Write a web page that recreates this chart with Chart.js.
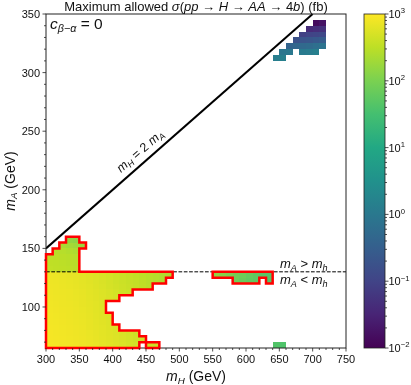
<!DOCTYPE html>
<html>
<head>
<meta charset="utf-8">
<script src="https://cdn.jsdelivr.net/npm/chart.js@4.4.1/dist/chart.umd.min.js"></script>
<style>
  html, body { margin: 0; padding: 0; background: #fff; }
</style>
</head>
<body>
<canvas id="myChart" width="411" height="385"></canvas>
<script>
// grid cells are 10 GeV wide in m_H and 5 GeV tall in m_A
// each row: [m_A lower edge, first m_H lower edge, sigma in fb per cell (null = empty)]
var lowRows = [
    [65, 300, [880, 860, 840, 820, 800, 780, 740, 700, 660, 620, 580, 540, 500, 460, null, 430, 400]],
    [70, 300, [870, 850, 830, 810, 790, 760, 720, 680, 640, 600, 560, 520, 480, 440, 420]],
    [75, 300, [860, 840, 820, 800, 780, 750, 710, 670, 630, 590, 550, 510, 470, 430]],
    [80, 300, [850, 830, 810, 790, 760, 730, 690, 650, 610, 570, 530]],
    [85, 300, [840, 820, 800, 780, 750, 720, 680, 640, 600, 560]],
    [90, 300, [830, 810, 790, 770, 740, 710, 670, 630, 590, 550]],
    [95, 300, [820, 800, 780, 760, 730, 700, 660, 620, 580]],
    [100, 300, [810, 790, 770, 750, 720, 690, 650, 610, 570]],
    [105, 300, [800, 780, 760, 740, 710, 680, 640, 600, 560, 520, 480]],
    [110, 300, [790, 770, 750, 730, 700, 670, 630, 590, 550, 510, 470, 430, 400]],
    [115, 300, [780, 760, 740, 710, 690, 650, 610, 570, 530, 490, 450, 420, 390, 360, 330, 300]],
    [120, 300, [770, 750, 720, 700, 670, 640, 600, 560, 520, 480, 440, 410, 380, 350, 320, 290, 270, 250]],
    [125, 300, [760, 740, 710, 690, 660, 630, 590, 550, 510, 470, 430, 400, 370, 340, 310, 290, 270, 250, 230]],
    [130, 300, [340, 330, 320, 310, 300]],
    [135, 300, [330, 320, 310, 300, 290]],
    [140, 300, [320, 310, 300, 290, 280]],
    [145, 310, [290, 280, 260, 240]],
    [150, 320, [230, 210, 190, 170]],
    [155, 330, [150, 140]]
];
var midRows = [
    [125, 550, [140, 120, 100, 85, 75, 65, 55, 50, 45]],
    [120, 580, [80, 70, 60, 55, null, 45]]
];
var topRows = [
    [340, 700, [0.014, 0.018]],
    [335, 690, [0.04, 0.045, 0.05]],
    [330, 680, [0.09, 0.1, 0.11, 0.12]],
    [325, 670, [0.18, 0.2, 0.22, 0.25, 0.28]],
    [320, 660, [0.4, 0.45, 0.5, 0.55, 0.65, 0.8]],
    [315, 650, [0.9, 1.0, null, 1.1, 1.2, 1.4]],
    [310, 640, [1.3, 1.4]]
];
var loneRows = [
    [65, 640, [42, 40]]
];

var diagMH = [300, 700];          // m_H = 2 m_A
var mhLight = 130;                // m_A = m_h divider
var xTicks = [300, 350, 400, 450, 500, 550, 600, 650, 700, 750];
var yTicks = [100, 150, 200, 250, 300, 350];
var cbExps = [-2, -1, 0, 1, 2, 3];

var dMH = 10, dMA = 5;
var FAM = '"Liberation Sans", Arial, sans-serif';
var VIRIDIS = ['#440154', '#482475', '#414487', '#355f8d', '#2a788e', '#21918c',
    '#22a884', '#44bf70', '#7ad151', '#bddf26', '#fde725'];

function hexRgb(h) {
    return [parseInt(h.substr(1, 2), 16), parseInt(h.substr(3, 2), 16), parseInt(h.substr(5, 2), 16)];
}

function viridis(v) {
    var t = (Math.log10(v) + 2) / 5;
    t = Math.max(0, Math.min(1, t));
    var f = t * (VIRIDIS.length - 1);
    var i = Math.min(Math.floor(f), VIRIDIS.length - 2);
    var r = f - i;
    var a = hexRgb(VIRIDIS[i]), b = hexRgb(VIRIDIS[i + 1]);
    return 'rgb(' + [0, 1, 2].map(function (k) { return Math.round(a[k] + (b[k] - a[k]) * r); }).join(',') + ')';
}

function toCells(rows) {
    var out = [];
    rows.forEach(function (r) {
        r[2].forEach(function (v, k) {
            if (v !== null) out.push({ x: r[1] + k * dMH, y: r[0], v: v });
        });
    });
    return out;
}

var lowCells = toCells(lowRows);
var midCells = toCells(midRows);
var allCells = lowCells.concat(midCells, toCells(topRows), toCells(loneRows));

// text made of runs: [text, kind] kind r / i / sub / subi / sup
function drawText(ctx, parts, size, x, y, align, rot) {
    var rs = parts.map(function (p) {
        var k = p[1] || 'r', s = size, dy = 0, it = (k === 'i' || k === 'subi');
        if (k === 'sub' || k === 'subi') { s = size * 0.7; dy = size * 0.2; }
        if (k === 'sup') { s = size * 0.7; dy = -size * 0.42; }
        var font = (it ? 'italic ' : '') + s.toFixed(1) + 'px ' + FAM;
        ctx.font = font;
        return { t: p[0], font: font, dy: dy, w: ctx.measureText(p[0]).width };
    });
    var total = rs.reduce(function (a, r) { return a + r.w; }, 0);
    ctx.save();
    ctx.translate(x, y);
    if (rot) ctx.rotate(rot);
    var cx = align === 'center' ? -total / 2 : (align === 'right' ? -total : 0);
    ctx.textAlign = 'left';
    ctx.textBaseline = 'alphabetic';
    ctx.fillStyle = '#111';
    rs.forEach(function (r) {
        ctx.font = r.font;
        ctx.fillText(r.t, cx, r.dy);
        cx += r.w;
    });
    ctx.restore();
}

function outline(ctx, cells, xs, ys) {
    var has = {};
    cells.forEach(function (c) { has[c.x + ',' + c.y] = true; });
    ctx.save();
    ctx.strokeStyle = '#ff0000';
    ctx.lineWidth = 2.5;
    ctx.lineCap = 'square';
    ctx.beginPath();
    cells.forEach(function (c) {
        var x0 = xs.getPixelForValue(c.x), x1 = xs.getPixelForValue(c.x + dMH);
        var y0 = ys.getPixelForValue(c.y), y1 = ys.getPixelForValue(c.y + dMA);
        if (!has[(c.x - dMH) + ',' + c.y]) { ctx.moveTo(x0, y0); ctx.lineTo(x0, y1); }
        if (!has[(c.x + dMH) + ',' + c.y]) { ctx.moveTo(x1, y0); ctx.lineTo(x1, y1); }
        if (!has[c.x + ',' + (c.y - dMA)]) { ctx.moveTo(x0, y0); ctx.lineTo(x1, y0); }
        if (!has[c.x + ',' + (c.y + dMA)]) { ctx.moveTo(x0, y1); ctx.lineTo(x1, y1); }
    });
    ctx.stroke();
    ctx.restore();
}

var heatPlugin = {
    id: 'heat',
    beforeDatasetsDraw: function (chart) {
        var ctx = chart.ctx, xs = chart.scales.x, ys = chart.scales.y;
        ctx.save();
        allCells.forEach(function (c) {
            var x0 = Math.round(xs.getPixelForValue(c.x)), x1 = Math.round(xs.getPixelForValue(c.x + dMH));
            var y1 = Math.round(ys.getPixelForValue(c.y)), y0 = Math.round(ys.getPixelForValue(c.y + dMA));
            ctx.fillStyle = viridis(c.v);
            ctx.fillRect(x0, y0, x1 - x0, y1 - y0);
        });
        ctx.restore();
    },
    afterDatasetsDraw: function (chart) {
        var ctx = chart.ctx, xs = chart.scales.x, ys = chart.scales.y, cb = chart.scales.cb;
        var a = chart.chartArea;

        // frame
        ctx.save();
        ctx.strokeStyle = '#222';
        ctx.lineWidth = 1;
        ctx.strokeRect(a.left, a.top, a.right - a.left, a.bottom - a.top);
        ctx.restore();

        outline(ctx, lowCells, xs, ys);
        outline(ctx, midCells, xs, ys);

        // ticks
        ctx.save();
        ctx.strokeStyle = '#222';
        ctx.lineWidth = 0.8;
        ctx.beginPath();
        for (var mx = 300; mx <= 750; mx += 10) {
            var px = xs.getPixelForValue(mx), len = (mx % 50 === 0) ? 3.5 : 2;
            ctx.moveTo(px, a.bottom); ctx.lineTo(px, a.bottom + len);
        }
        for (var my = 70; my <= 350; my += 10) {
            var py = ys.getPixelForValue(my), ln = (my % 50 === 0) ? 3.5 : 2;
            ctx.moveTo(a.left, py); ctx.lineTo(a.left - ln, py);
        }
        ctx.stroke();
        ctx.restore();

        xTicks.forEach(function (t) {
            drawText(ctx, [[String(t)]], 11, xs.getPixelForValue(t), a.bottom + 14.5, 'center');
        });
        yTicks.forEach(function (t) {
            drawText(ctx, [[String(t)]], 11, a.left - 6, ys.getPixelForValue(t) + 4, 'right');
        });

        // axis titles
        drawText(ctx, [['m', 'i'], ['H', 'subi'], [' (GeV)']], 14, (a.left + a.right) / 2, 381, 'center');
        drawText(ctx, [['m', 'i'], ['A', 'subi'], [' (GeV)']], 14, 14.5, (a.top + a.bottom) / 2, 'center', -Math.PI / 2);

        // title
        drawText(ctx, [['Maximum allowed '], ['σ', 'i'], ['('], ['pp', 'i'], [' → '], ['H', 'i'], [' → '],
            ['AA', 'i'], [' → 4'], ['b', 'i'], [') (fb)']], 13, (a.left + a.right) / 2, 10.5, 'center');

        // annotations
        drawText(ctx, [['c', 'i'], ['β−α', 'subi'], [' = 0']], 15.5, 50, 28.5, 'left');

        var p1x = xs.getPixelForValue(diagMH[0]), p1y = ys.getPixelForValue(diagMH[0] / 2);
        var p2x = xs.getPixelForValue(diagMH[1]), p2y = ys.getPixelForValue(diagMH[1] / 2);
        var ang = Math.atan2(p2y - p1y, p2x - p1x);
        var lx = xs.getPixelForValue(452), ly = ys.getPixelForValue(226);
        drawText(ctx, [['m', 'i'], ['H', 'subi'], [' = 2 '], ['m', 'i'], ['A', 'subi']], 12.5,
            lx + 7 * Math.sin(ang), ly - 7 * Math.cos(ang), 'center', ang);

        var dy = ys.getPixelForValue(mhLight);
        drawText(ctx, [['m', 'i'], ['A', 'subi'], [' > '], ['m', 'i'], ['h', 'subi']], 13, 280, dy - 3.5, 'left');
        drawText(ctx, [['m', 'i'], ['A', 'subi'], [' < '], ['m', 'i'], ['h', 'subi']], 13, 280, dy + 12.5, 'left');

        // colorbar
        var cl = 364, cr = 385;
        var ct = cb.getPixelForValue(1000), cbm = cb.getPixelForValue(0.01);
        ctx.save();
        var g = ctx.createLinearGradient(0, cbm, 0, ct);
        VIRIDIS.forEach(function (c, i) { g.addColorStop(i / (VIRIDIS.length - 1), c); });
        ctx.fillStyle = g;
        ctx.fillRect(cl, ct, cr - cl, cbm - ct);
        ctx.strokeStyle = '#222';
        ctx.lineWidth = 0.8;
        ctx.strokeRect(cl, ct, cr - cl, cbm - ct);
        ctx.beginPath();
        cbExps.forEach(function (e, i) {
            var base = Math.pow(10, e);
            var py = cb.getPixelForValue(base);
            ctx.moveTo(cr, py); ctx.lineTo(cr + 3.5, py);
            if (i < cbExps.length - 1) {
                for (var m = 2; m <= 9; m++) {
                    var q = cb.getPixelForValue(m * base);
                    ctx.moveTo(cr, q); ctx.lineTo(cr + 2, q);
                }
            }
        });
        ctx.stroke();
        ctx.restore();
        cbExps.forEach(function (e) {
            var s = e < 0 ? '−' + (-e) : String(e);
            drawText(ctx, [['10'], [s, 'sup']], 11, cr + 3.5, cb.getPixelForValue(Math.pow(10, e)) + 4, 'left');
        });
    }
};

function init_chart() {
    const ctx = document.getElementById('myChart');
    new Chart(ctx, {
        type: 'scatter',
        data: {
            datasets: [{
                data: diagMH.map(function (m) { return { x: m, y: m / 2 }; }),
                showLine: true,
                borderColor: '#000',
                borderWidth: 2,
                pointRadius: 0
            }, {
                data: [{ x: xTicks[0], y: mhLight }, { x: xTicks[xTicks.length - 1], y: mhLight }],
                showLine: true,
                borderColor: '#000',
                borderWidth: 1,
                borderDash: [3.7, 1.6],
                pointRadius: 0
            }]
        },
        options: {
            responsive: false,
            animation: false,
            events: [],
            layout: { padding: { left: 46, right: 65, top: 14, bottom: 37 } },
            plugins: { legend: { display: false }, tooltip: { enabled: false } },
            scales: {
                x: { type: 'linear', min: 300, max: 750, display: false },
                y: { type: 'linear', min: 65, max: 350, display: false },
                cb: { type: 'logarithmic', position: 'right', min: 0.01, max: 1000, display: false }
            }
        },
        plugins: [heatPlugin]
    });
}
init_chart()
</script>
</body>
</html>
